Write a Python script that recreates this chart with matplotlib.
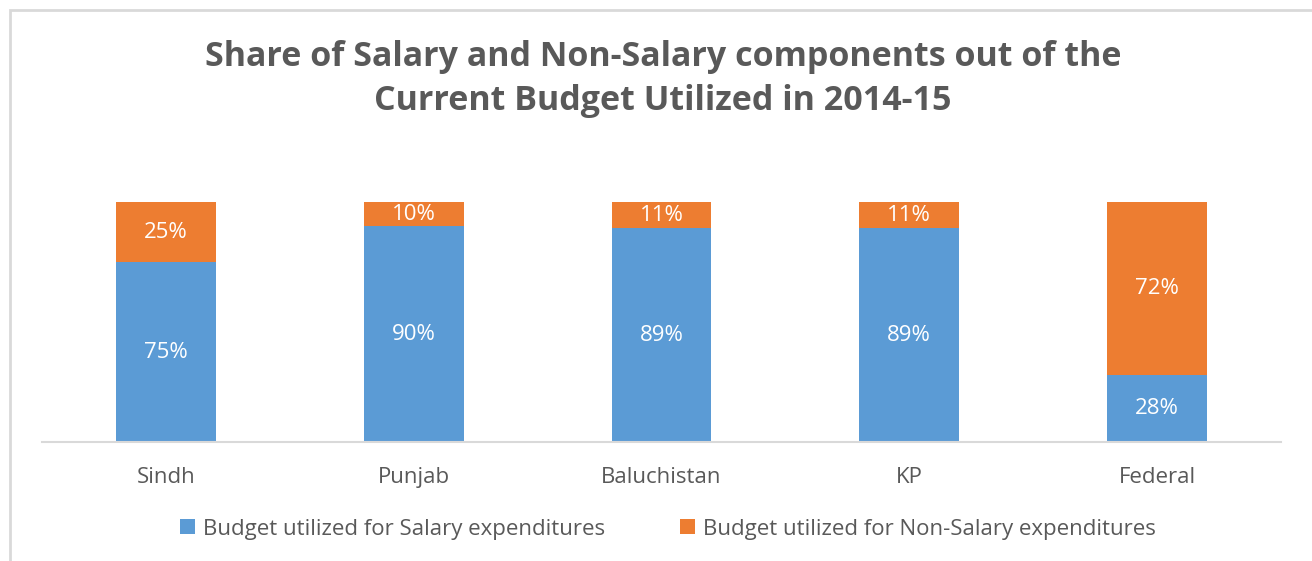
import matplotlib
matplotlib.use("Agg")
import matplotlib.pyplot as plt
from matplotlib.patches import Rectangle, Patch

categories = ["Sindh", "Punjab", "Baluchistan", "KP", "Federal"]
salary = [75, 90, 89, 89, 28]
non_salary = [25, 10, 11, 11, 72]
series_names = ["Budget utilized for Salary expenditures",
                 "Budget utilized for Non-Salary expenditures"]
title = "Share of Salary and Non-Salary components out of the\nCurrent Budget Utilized in 2014-15"

BLUE = "#5B9BD5"
ORANGE = "#ED7D31"
TXT = "#595959"
FONT = "Open Sans"

W, H = 1312, 561
fig = plt.figure(figsize=(W / 100, H / 100), dpi=100)
fig.patch.set_facecolor("white")

# chart border (cropped on right and bottom)
fig.patches.append(Rectangle((10 / W, -0.05), 1.2, 1 - 10 / H + 0.05,
                             transform=fig.transFigure, fill=False,
                             edgecolor="#D9D9D9", linewidth=2))

ax = fig.add_axes([42 / W, 1 - 442 / H, (1281 - 42) / W, (442 - 202) / H])
x = list(range(len(categories)))
bw = 0.403
ax.bar(x, salary, width=bw, color=BLUE, label=series_names[0], zorder=2)
ax.bar(x, non_salary, width=bw, bottom=salary, color=ORANGE,
       label=series_names[1], zorder=2)

for i in x:
    ax.text(i, salary[i] / 2, f"{salary[i]}%", ha="center", va="center",
            color="white", fontsize=16, family=FONT, zorder=3)
    ax.text(i, salary[i] + non_salary[i] / 2, f"{non_salary[i]}%",
            ha="center", va="center", color="white", fontsize=16,
            family=FONT, zorder=3)

ax.set_xlim(-0.5, len(categories) - 0.5)
ax.set_ylim(0, 100)
for s in ["top", "right", "left"]:
    ax.spines[s].set_visible(False)
ax.spines["bottom"].set_color("#D9D9D9")
ax.spines["bottom"].set_linewidth(1.5)
ax.set_yticks([])
ax.set_xticks(x)
ax.set_xticklabels(categories, fontsize=16, family=FONT, color=TXT)
ax.tick_params(axis="x", length=0, pad=18)

fig.text(663 / W, 1 - 79 / H, title, ha="center", va="center",
         fontsize=24.5, fontweight="bold", family=FONT, color=TXT,
         linespacing=1.42)

handles = [Patch(facecolor=BLUE), Patch(facecolor=ORANGE)]
fig.legend(handles, series_names, loc="center", bbox_to_anchor=(668 / W, 1 - 529 / H),
           ncol=2, frameon=False, prop={"family": FONT, "size": 16},
           labelcolor=TXT, handlelength=0.65, handleheight=0.65,
           handletextpad=0.35, columnspacing=3.4)

fig.savefig("out.png", dpi=100, facecolor="white")
